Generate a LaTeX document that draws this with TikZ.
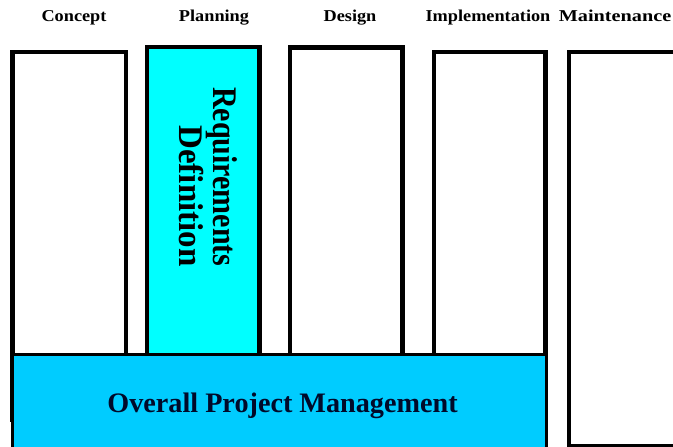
\documentclass[tikz,border=0pt]{standalone}
\usepackage{fontspec}
\usepackage{graphicx}
\setmainfont{Liberation Serif}
\definecolor{plancyan}{HTML}{00FFFF}
\definecolor{mgmtblue}{HTML}{00CCFF}
\definecolor{mgmttext}{HTML}{000A2A}
\begin{document}
\begin{tikzpicture}[x=1pt,y=-1pt,
  phase/.style={draw=black, line width=4.3pt, fill=white, rectangle,
    outer sep=0pt, inner sep=0pt, anchor=north west},
  mgmt/.style={draw=black, line width=3pt, fill=mgmtblue, rectangle,
    outer sep=0pt, inner sep=0pt, anchor=north west},
  header/.style={anchor=base, inner sep=0pt,
    font=\bfseries\fontsize{16.6}{18}\selectfont}]
  \useasboundingbox (0,0) rectangle (673,447);
  \clip (0,0) rectangle (673,447);
  \fill[white] (0,0) rectangle (673,447);

  % phase headings
  \node[header] (hconcept) at (74,21)  {\scalebox{1.1}[1]{Concept}};
  \node[header] (hplan)    at (214,21) {\scalebox{1.1}[1]{Planning}};
  \node[header] (hdesign)  at (350,21) {\scalebox{1.1}[1]{Design}};
  \node[header] (himpl)    at (488,21) {\scalebox{1.1}[1]{Implementation}};
  \node[header] (hmaint)   at (615,21) {\scalebox{1.22}[1]{Maintenance}};

  % phase columns
  \node[phase, minimum width=113.5pt, minimum height=368pt] (concept) at (12.5,52) {};
  \node[phase, fill=plancyan, minimum width=112.5pt, minimum height=373pt] (planning) at (147,47) {};
  \node[phase, minimum width=112.5pt, minimum height=372.5pt] (design) at (290,47.5) {};
  \node[phase, minimum width=111.5pt, minimum height=368pt] (impl) at (434,52) {};
  \node[phase, minimum width=131pt, minimum height=394pt] (maint) at (569,52) {};

  % requirements label inside the planning column, read top to bottom
  \node[inner sep=0pt, anchor=north,
        font=\bfseries\fontsize{30}{32}\selectfont] (reqdef) at (204,87)
    {\rotatebox{-90}{\scalebox{1}[1.15]{\begin{tabular}{@{}r@{}}Requirements\\[-2pt]\scalebox{1.1}[1]{Definition}\end{tabular}}}};

  % overall management band across the first four phases
  \node[mgmt, minimum width=533.5pt, minimum height=115.5pt] (opm) at (12.5,354.5) {};
  \node[anchor=base, inner sep=0pt, text=mgmttext,
        font=\bfseries\fontsize{28.2}{30}\selectfont] (opmtext) at (282.5,412)
    {Overall Project Management};
\end{tikzpicture}
\end{document}
